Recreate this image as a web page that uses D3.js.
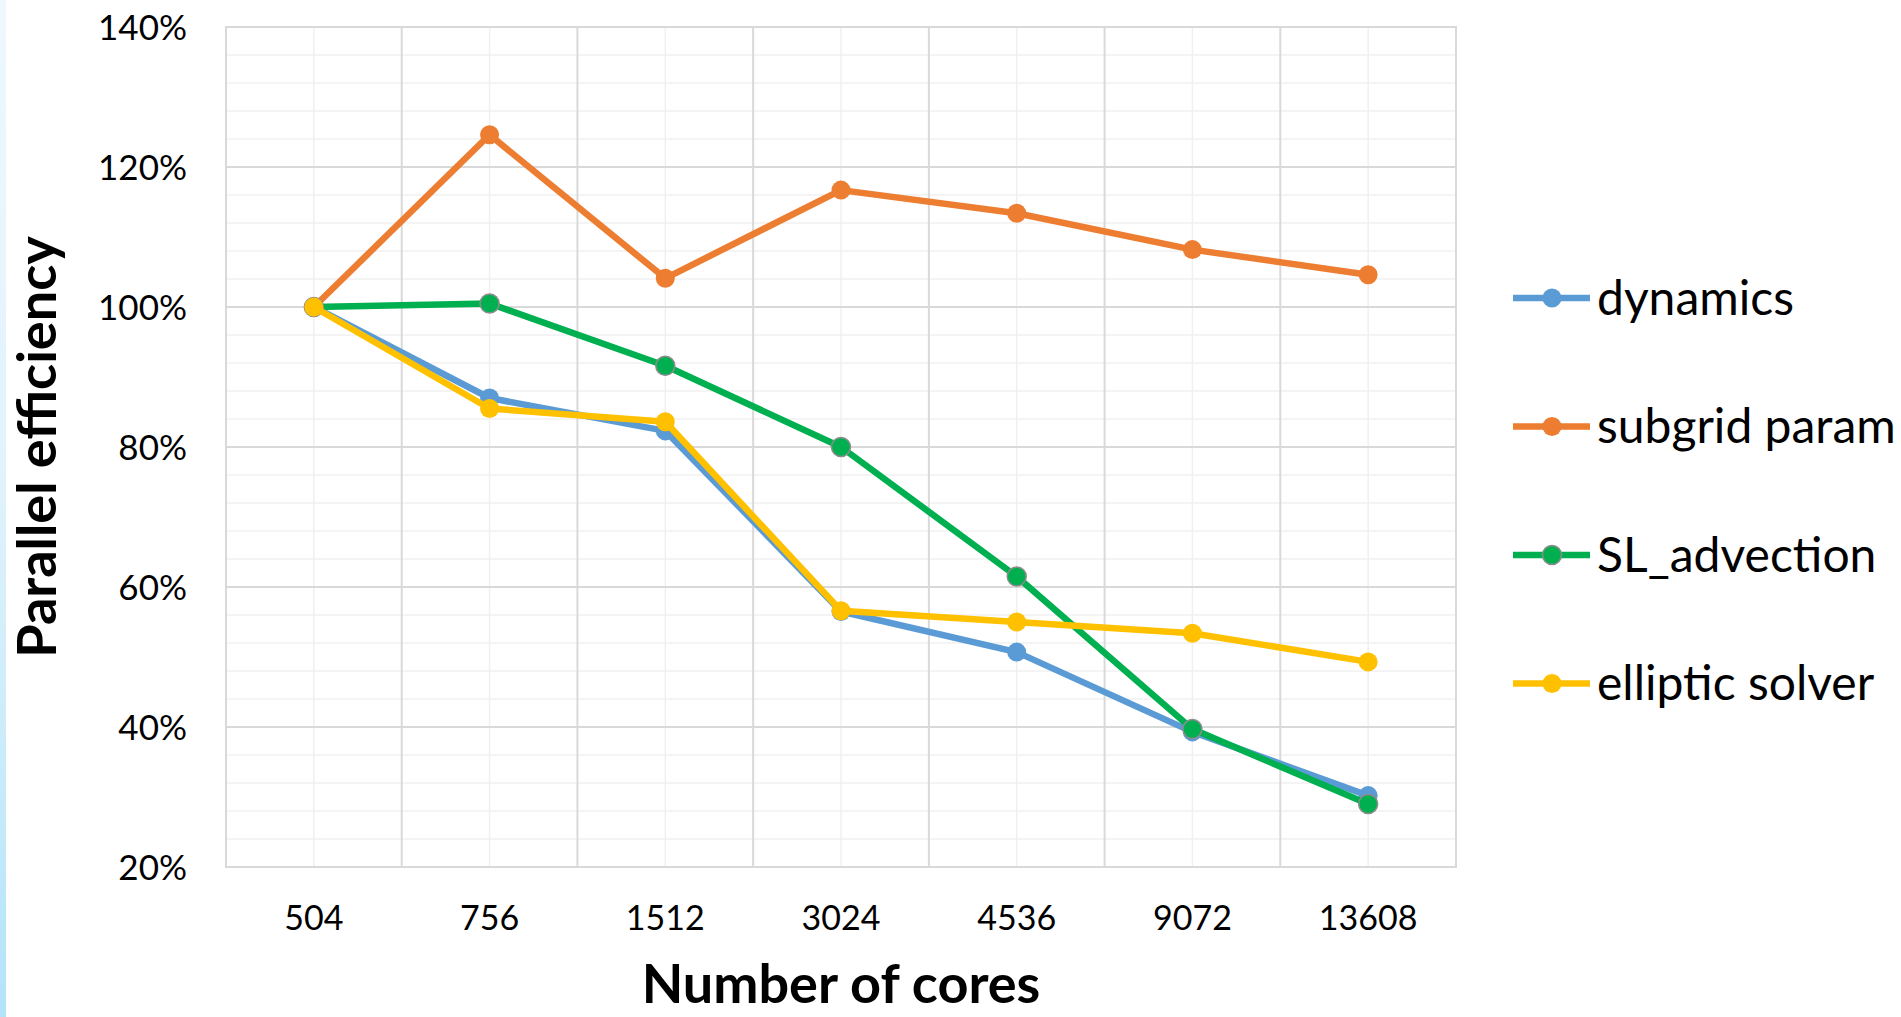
<!DOCTYPE html>
<html>
<head>
<meta charset="utf-8">
<script src="https://cdn.jsdelivr.net/npm/d3@7"></script>
<style>
  html, body { margin: 0; padding: 0; background: #ffffff; }
  svg { display: block; }
  text { font-family: Lato, "Open Sans", sans-serif; fill: #000; }
</style>
</head>
<body>
<svg id="chart" width="1901" height="1017"></svg>
<script>
// Core counts on the x axis
const cores = ["504", "756", "1512", "3024", "4536", "9072", "13608"];

// Parallel efficiency (%) per component
const dynamics     = [100, 87.0, 82.3, 56.5, 50.7, 39.3, 30.2];
const subgridParam = [100, 124.6, 104.1, 116.7, 113.4, 108.2, 104.6];
const slAdvection  = [100, 100.5, 91.6, 80.0, 61.5, 39.7, 29.0];
const ellipticSolver = [100, 85.5, 83.6, 56.6, 55.0, 53.4, 49.3];

const seriesNames  = ["dynamics", "subgrid param", "SL_advection", "elliptic solver"];
const seriesColors = ["#5B9BD5", "#ED7D31", "#00B050", "#FFC000"];
const markerStroke = [null, null, "#8c8c8c", null];

const yTicks = [20, 40, 60, 80, 100, 120, 140];

const series = [dynamics, subgridParam, slAdvection, ellipticSolver].map((vals, i) => ({
  name: seriesNames[i], color: seriesColors[i], stroke: markerStroke[i],
  values: vals.map((v, j) => ({ core: cores[j], v }))
}));

const svg = d3.select("#chart");
const W = 1901, H = 1017;
const plot = { left: 226, right: 1456, top: 27, bottom: 867 };

// soft blue strip along the left edge
const defs = svg.append("defs");
const grad = defs.append("linearGradient").attr("id", "edge")
  .attr("x1", 0).attr("y1", 0).attr("x2", 0).attr("y2", 1);
grad.append("stop").attr("offset", "0%").attr("stop-color", "#eef8fd");
grad.append("stop").attr("offset", "45%").attr("stop-color", "#e2f3fb");
grad.append("stop").attr("offset", "75%").attr("stop-color", "#c9ebfa");
grad.append("stop").attr("offset", "100%").attr("stop-color", "#b3e3f9");
svg.append("rect").attr("x", 0).attr("y", 0).attr("width", 6).attr("height", H)
  .attr("fill", "url(#edge)");

const x = d3.scaleBand().domain(cores).range([plot.left, plot.right]).padding(0);
const y = d3.scaleLinear().domain([20, 140]).range([plot.bottom, plot.top]);

const grid = svg.append("g");

// minor horizontal gridlines every 4%
grid.selectAll("line.hmin").data(d3.range(20, 141, 4).filter(v => v % 20 !== 0))
  .join("line")
  .attr("x1", plot.left).attr("x2", plot.right)
  .attr("y1", d => y(d)).attr("y2", d => y(d))
  .attr("stroke", "#f0f0f0").attr("stroke-width", 1.5);

// minor vertical gridlines at category centres
grid.selectAll("line.vmin").data(cores).join("line")
  .attr("x1", d => x(d) + x.bandwidth() / 2).attr("x2", d => x(d) + x.bandwidth() / 2)
  .attr("y1", plot.top).attr("y2", plot.bottom)
  .attr("stroke", "#f0f0f0").attr("stroke-width", 1.5);

// major horizontal gridlines
grid.selectAll("line.hmaj").data(yTicks).join("line")
  .attr("x1", plot.left).attr("x2", plot.right)
  .attr("y1", d => y(d)).attr("y2", d => y(d))
  .attr("stroke", "#d9d9d9").attr("stroke-width", 2);

// major vertical gridlines on category boundaries
grid.selectAll("line.vmaj").data(cores.slice(1)).join("line")
  .attr("x1", d => x(d)).attr("x2", d => x(d))
  .attr("y1", plot.top).attr("y2", plot.bottom)
  .attr("stroke", "#d9d9d9").attr("stroke-width", 2);

// plot area frame
grid.append("rect")
  .attr("x", plot.left).attr("y", plot.top)
  .attr("width", plot.right - plot.left).attr("height", plot.bottom - plot.top)
  .attr("fill", "none").attr("stroke", "#d9d9d9").attr("stroke-width", 2);

// y axis
const yAxis = svg.append("g")
  .attr("transform", `translate(${plot.left},0)`)
  .call(d3.axisLeft(y).tickValues(yTicks).tickFormat(d => d + "%").tickSize(0).tickPadding(39));
yAxis.select(".domain").remove();
yAxis.selectAll("text").style("font-family", "Lato, sans-serif").style("font-size", "35px")
  .attr("fill", "#000").attr("dy", "0.35em");

// x axis
const xAxis = svg.append("g")
  .attr("transform", `translate(0,${plot.bottom})`)
  .call(d3.axisBottom(x).tickSize(0).tickPadding(39));
xAxis.select(".domain").remove();
xAxis.selectAll("text").style("font-family", "Lato, sans-serif").style("font-size", "34px")
  .attr("fill", "#000");

// axis titles
svg.append("text")
  .attr("transform", `translate(56,${(plot.top + plot.bottom) / 2}) rotate(-90)`)
  .attr("text-anchor", "middle")
  .style("font-size", "54px").style("font-weight", "bold")
  .text("Parallel efficiency");

svg.append("text")
  .attr("x", (plot.left + plot.right) / 2).attr("y", 1003)
  .attr("text-anchor", "middle")
  .style("font-size", "54px").style("font-weight", "bold")
  .text("Number of cores");

// series lines and markers
const line = d3.line()
  .x(d => x(d.core) + x.bandwidth() / 2)
  .y(d => y(d.v));

const sg = svg.append("g").selectAll("g").data(series).join("g");
sg.append("path")
  .attr("d", d => line(d.values))
  .attr("fill", "none")
  .attr("stroke", d => d.color)
  .attr("stroke-width", 6.5)
  .attr("stroke-linejoin", "round")
  .attr("stroke-linecap", "round");
sg.selectAll("circle").data(d => d.values.map(p => ({ ...p, s: d }))).join("circle")
  .attr("cx", d => x(d.core) + x.bandwidth() / 2)
  .attr("cy", d => y(d.v))
  .attr("r", 9.5)
  .attr("fill", d => d.s.color)
  .attr("stroke", d => d.s.stroke || "none")
  .attr("stroke-width", 1.5);

// legend
const legend = svg.append("g");
const lg = legend.selectAll("g").data(series).join("g")
  .attr("transform", (d, i) => `translate(1513,${298 + i * 128.5})`);
lg.append("line").attr("x1", 0).attr("x2", 77).attr("y1", 0).attr("y2", 0)
  .attr("stroke", d => d.color).attr("stroke-width", 6.5);
lg.append("circle").attr("cx", 39).attr("cy", 0).attr("r", 9.5)
  .attr("fill", d => d.color)
  .attr("stroke", d => d.stroke || "none").attr("stroke-width", 1.5);
lg.append("text").attr("x", 84).attr("y", 0).attr("dy", "0.35em")
  .style("font-size", "48px")
  .text(d => d.name);
</script>
</body>
</html>
